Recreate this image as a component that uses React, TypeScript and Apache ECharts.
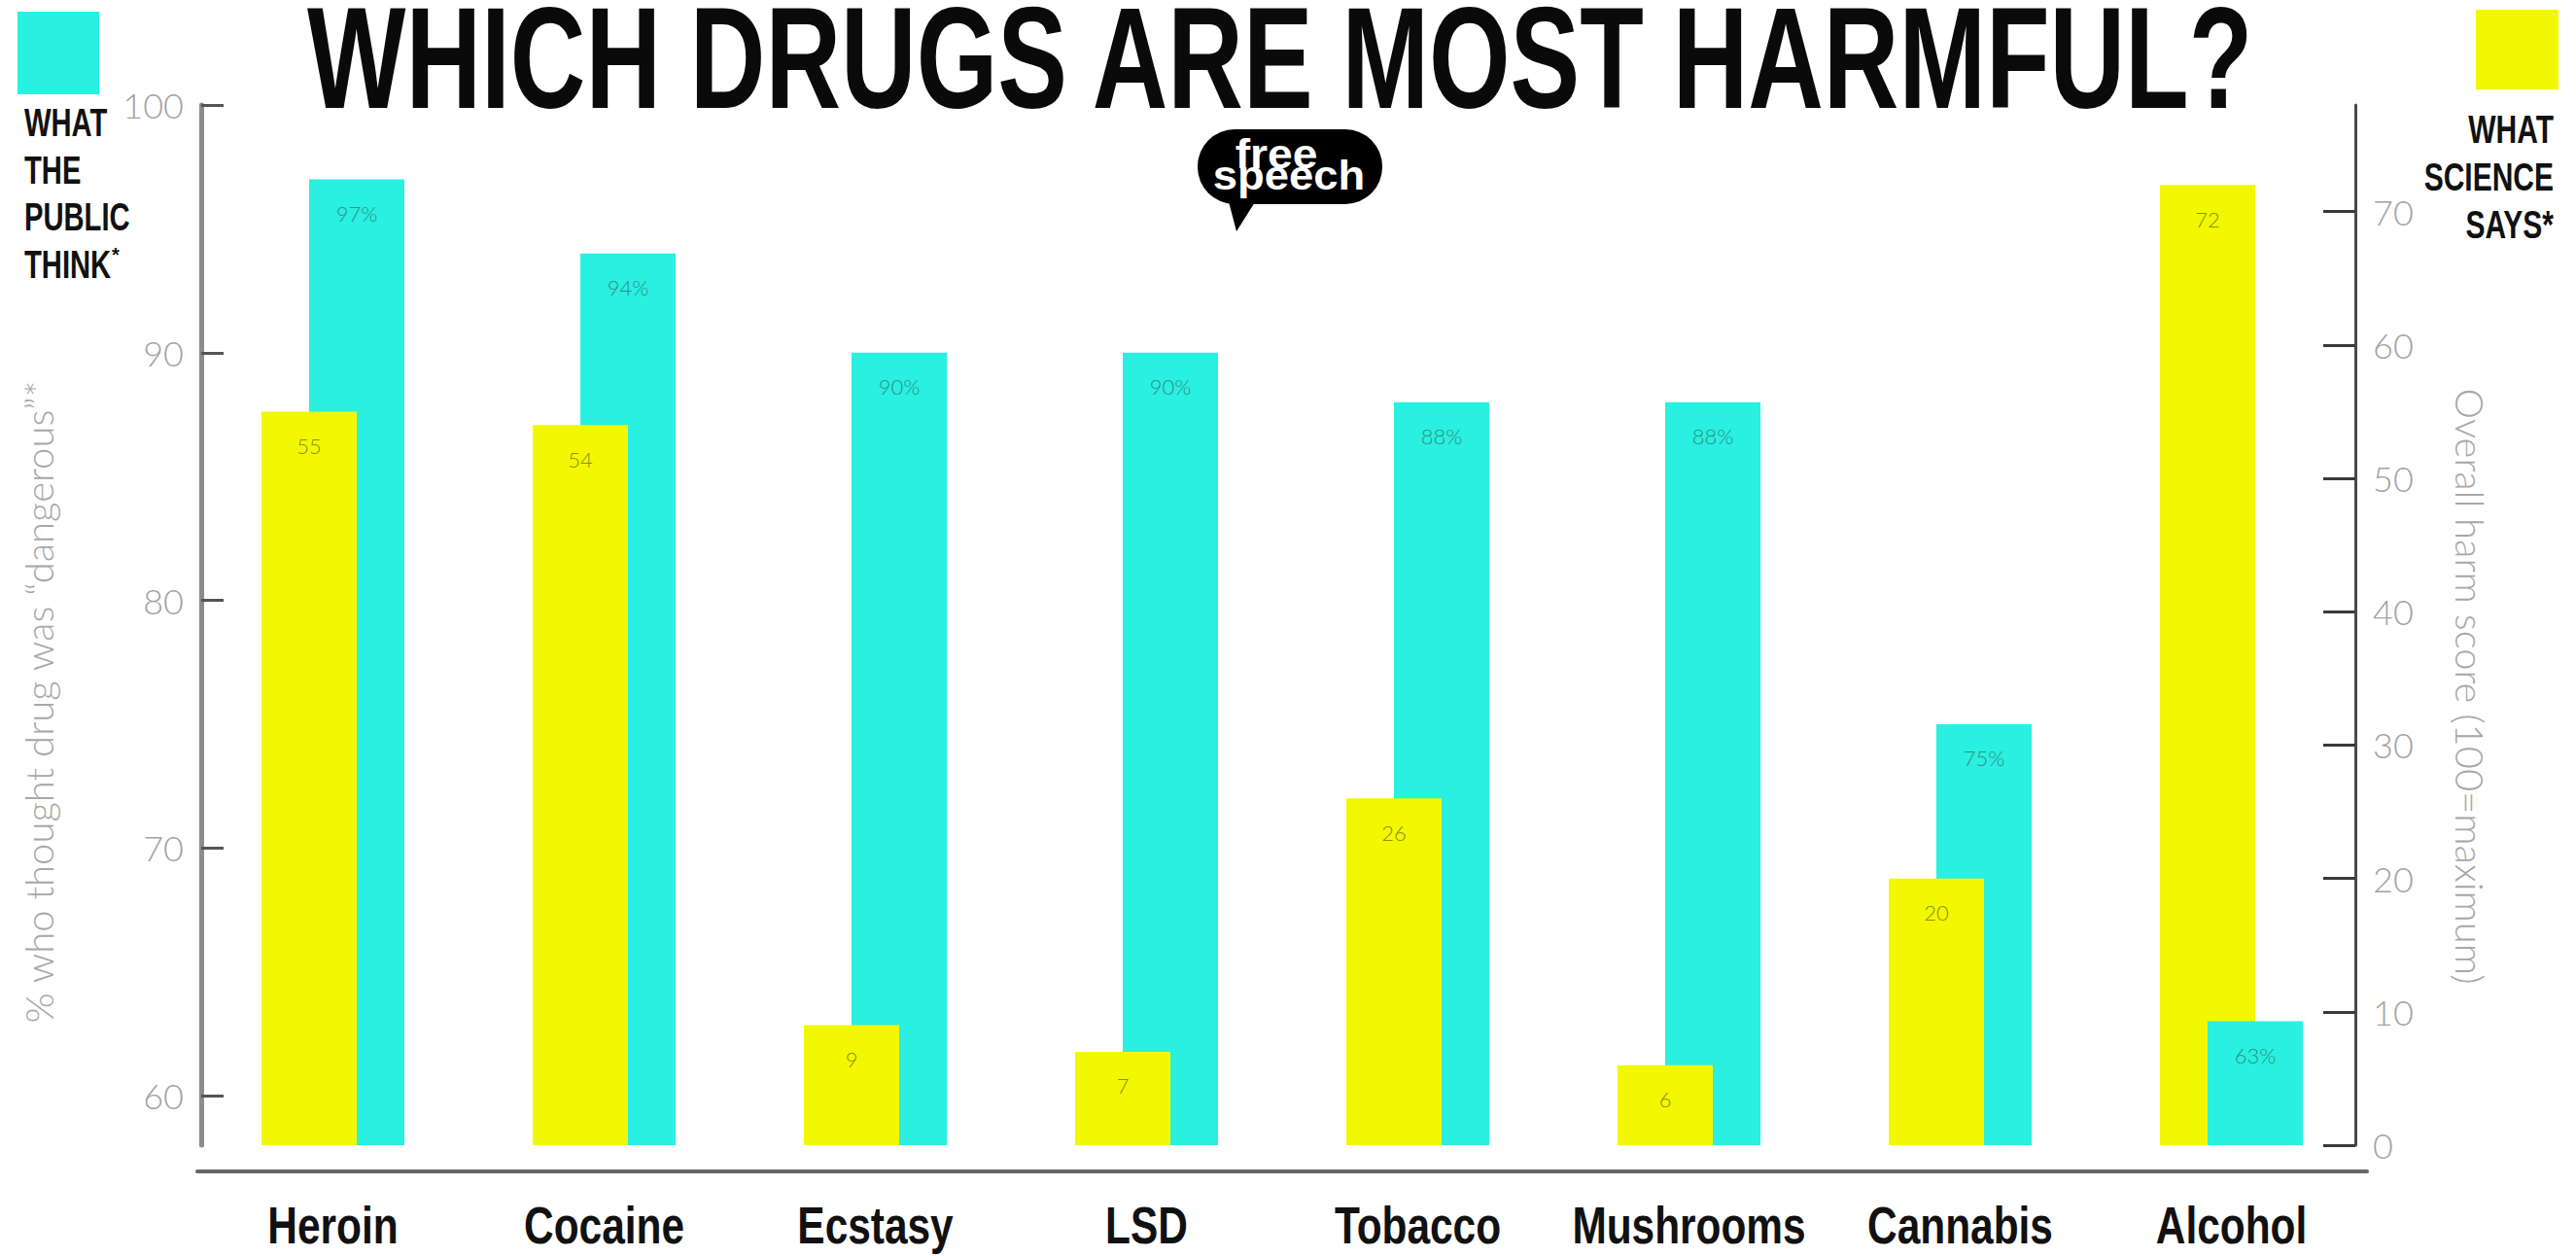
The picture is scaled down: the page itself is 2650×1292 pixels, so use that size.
import React, { useEffect, useRef } from 'react';
import * as echarts from 'echarts';

const categories = ['Heroin', 'Cocaine', 'Ecstasy', 'LSD', 'Tobacco', 'Mushrooms', 'Cannabis', 'Alcohol'];
const publicThink = [97, 94, 90, 90, 88, 88, 75, 63];
const scienceSays = [55, 54, 9, 7, 26, 6, 20, 72];
const leftTicks = [60, 70, 80, 90, 100];
const rightTicks = [0, 10, 20, 30, 40, 50, 60, 70];

const LEFT_MIN = 58;
const LEFT_MAX = 100;
const RIGHT_MIN = 0;
const RIGHT_MAX = 78;

const CYAN = '#29F0E0';
const YELLOW = '#F2F800';
const ARIAL = '"Liberation Sans", Arial, sans-serif';
const LIGHT = 'Lato, "Liberation Sans", sans-serif';

export default function App() {
  const ref = useRef<HTMLDivElement>(null);

  useEffect(() => {
    document.body.style.margin = '0';
    document.body.style.overflow = 'hidden';
    if (!ref.current) return;
    const chart = echarts.init(ref.current, null, { renderer: 'svg' });

    // the shorter of the two bars of a group is drawn in front
    const cyanFrac = publicThink.map((v) => (v - LEFT_MIN) / (LEFT_MAX - LEFT_MIN));
    const yellowFrac = scienceSays.map((v) => (v - RIGHT_MIN) / (RIGHT_MAX - RIGHT_MIN));
    const cyanBack = publicThink.map((v, i) => (cyanFrac[i] >= yellowFrac[i] ? v : '-'));
    const cyanFront = publicThink.map((v, i) => (cyanFrac[i] < yellowFrac[i] ? v : '-'));

    const valueLabel = (color: string, fmt: string) => ({
      show: true,
      position: 'insideTop',
      distance: 24,
      color,
      fontSize: 22,
      fontFamily: LIGHT,
      fontWeight: 300,
      formatter: fmt,
    });

    const staticGraphic: any[] = [
      {
        id: 'title',
        type: 'text',
        x: 316,
        y: 60,
        scaleX: 0.726,
        style: {
          text: 'WHICH DRUGS ARE MOST HARMFUL?',
          fontFamily: ARIAL,
          fontWeight: 'bold',
          fontSize: 148,
          lineHeight: 112,
          fill: '#0a0a0a',
          align: 'left',
          verticalAlign: 'middle',
        },
      },
      { id: 'sqCyan', type: 'rect', shape: { x: 18, y: 12, width: 84, height: 85 }, style: { fill: CYAN } },
      { id: 'sqYellow', type: 'rect', shape: { x: 2547, y: 10, width: 85, height: 82 }, style: { fill: YELLOW } },
      ...['WHAT', 'THE', 'PUBLIC', 'THINK'].map((t, i) => ({
        id: 'lg' + i,
        type: 'text',
        x: 25,
        y: 126 + i * 48.5,
        scaleX: 0.73,
        style: { text: t, fontFamily: ARIAL, fontWeight: 'bold', fontSize: 40, fill: '#111111', align: 'left', verticalAlign: 'middle' },
      })),
      {
        id: 'lgStar',
        type: 'text',
        x: 115,
        y: 262,
        style: { text: '*', fontFamily: ARIAL, fontWeight: 'bold', fontSize: 20, fill: '#111111', align: 'left', verticalAlign: 'middle' },
      },
      ...['WHAT', 'SCIENCE', 'SAYS*'].map((t, i) => ({
        id: 'rg' + i,
        type: 'text',
        x: 2627,
        y: 133 + i * 49,
        scaleX: 0.75,
        style: { text: t, fontFamily: ARIAL, fontWeight: 'bold', fontSize: 40, fill: '#111111', align: 'right', verticalAlign: 'middle' },
      })),
      {
        id: 'logo',
        type: 'group',
        children: [
          { type: 'rect', shape: { x: 1232, y: 133, width: 190, height: 77, r: 38 }, style: { fill: '#000000' } },
          { type: 'polygon', shape: { points: [[1262, 200], [1296, 200], [1272, 238]] }, style: { fill: '#000000' } },
          {
            type: 'text',
            x: 1313,
            y: 158,
            scaleX: 1.1,
            style: { text: 'free', fontFamily: ARIAL, fontWeight: 'bold', fontSize: 42, fill: '#ffffff', align: 'center', verticalAlign: 'middle' },
          },
          {
            type: 'text',
            x: 1326,
            y: 180,
            scaleX: 1.08,
            style: { text: 'speech', fontFamily: ARIAL, fontWeight: 'bold', fontSize: 42, fill: '#ffffff', align: 'center', verticalAlign: 'middle' },
          },
        ],
      },
    ];

    const option: any = {
      animation: false,
      backgroundColor: '#ffffff',
      grid: { left: 203, right: 215, top: 108, bottom: 114, containLabel: false },
      xAxis: {
        type: 'category',
        data: categories,
        offset: 27,
        axisLine: { show: true, onZero: false, lineStyle: { color: '#676767', width: 4 } },
        axisTick: { show: false },
        axisLabel: { show: false },
        splitLine: { show: false },
      },
      yAxis: [
        {
          type: 'value',
          position: 'left',
          min: LEFT_MIN,
          max: LEFT_MAX,
          offset: -4,
          axisLine: { show: true, lineStyle: { color: '#8c8c8c', width: 5 } },
          axisTick: { show: true, inside: true, length: 23, customValues: leftTicks, lineStyle: { color: '#555555', width: 3 } },
          axisLabel: { customValues: leftTicks, margin: 18, color: '#a3a3a3', fontSize: 36, fontFamily: LIGHT, fontWeight: 300 },
          splitLine: { show: false },
          name: '% who thought drug was “dangerous”*',
          nameLocation: 'middle',
          nameGap: 147,
          nameTextStyle: { color: '#a8a8a8', fontSize: 40, fontFamily: LIGHT, fontWeight: 300, padding: [0, 158, 0, 0] },
        },
        {
          type: 'value',
          position: 'right',
          min: RIGHT_MIN,
          max: RIGHT_MAX,
          offset: -12,
          axisLine: { show: true, lineStyle: { color: '#4a4a4a', width: 3 } },
          axisTick: { show: true, inside: true, length: 33, customValues: rightTicks, lineStyle: { color: '#3a3a3a', width: 3 } },
          axisLabel: { customValues: rightTicks, margin: 18, color: '#a3a3a3', fontSize: 36, fontFamily: LIGHT, fontWeight: 300 },
          splitLine: { show: false },
          name: 'Overall harm score (100=maximum)',
          nameLocation: 'middle',
          nameRotate: -90,
          nameGap: 98,
          nameTextStyle: { color: '#a8a8a8', fontSize: 40, fontFamily: LIGHT, fontWeight: 300, padding: [0, 0, 0, 126] },
        },
      ],
      series: [
        {
          type: 'bar',
          name: 'What science says',
          yAxisIndex: 1,
          data: scienceSays,
          barWidth: 98,
          barGap: '-50%',
          z: 3,
          itemStyle: { color: YELLOW },
          label: valueLabel('#8f8f18', '{c}'),
        },
        {
          type: 'bar',
          name: 'What the public think',
          yAxisIndex: 0,
          stack: 'public',
          data: cyanBack,
          barWidth: 98,
          barGap: '-50%',
          z: 2,
          itemStyle: { color: CYAN },
          label: valueLabel('#2f8f88', '{c}%'),
        },
        {
          type: 'bar',
          name: 'What the public think (front)',
          yAxisIndex: 0,
          stack: 'public',
          data: cyanFront,
          barWidth: 98,
          barGap: '-50%',
          z: 4,
          itemStyle: { color: CYAN },
          label: valueLabel('#2f8f88', '{c}%'),
        },
      ],
      graphic: staticGraphic,
    };

    chart.setOption(option);

    // category names under the axis, placed through the category axis scale
    const catLabels = categories.map((c, i) => {
      const px = chart.convertToPixel({ xAxisIndex: 0 }, c) as number;
      return {
        id: 'cat' + i,
        type: 'text',
        x: px,
        y: 1261,
        scaleX: 0.8,
        style: { text: c, fontFamily: ARIAL, fontWeight: 'bold', fontSize: 53, fill: '#111111', align: 'center', verticalAlign: 'middle' },
      };
    });
    chart.setOption({ graphic: [...staticGraphic, ...catLabels] });

    return () => {
      chart.dispose();
    };
  }, []);

  return <div ref={ref} style={{ width: '2650px', height: '1292px' }} />;
}
